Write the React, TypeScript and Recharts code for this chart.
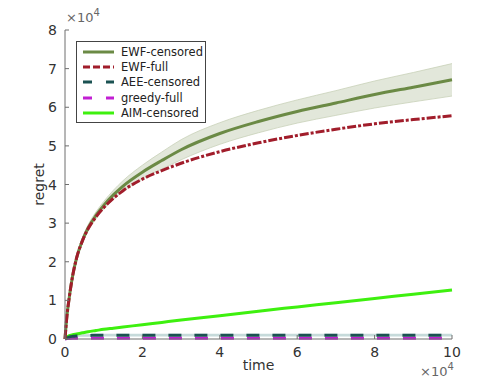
import {
  ComposedChart,
  Line,
  Area,
  XAxis,
  YAxis,
  Label,
} from "recharts";

// time in units of 1e4, regret in units of 1e4
const time = [0, 0.05, 0.1, 0.2, 0.3, 0.45, 0.6, 0.8, 1, 1.25, 1.5, 2, 2.5, 3, 4, 5, 6, 7, 8, 9, 10];
const ewfCensored = [0, 0.6, 1.0, 1.65, 2.1, 2.55, 2.88, 3.2, 3.46, 3.73, 3.96, 4.32, 4.62, 4.9, 5.32, 5.63, 5.89, 6.11, 6.33, 6.52, 6.71];
const ewfCensoredLow = [0, 0.58, 0.97, 1.6, 2.04, 2.48, 2.8, 3.11, 3.36, 3.61, 3.82, 4.14, 4.4, 4.64, 5.04, 5.34, 5.59, 5.79, 5.98, 6.14, 6.29];
const ewfCensoredHigh = [0, 0.62, 1.03, 1.7, 2.16, 2.62, 2.96, 3.29, 3.56, 3.85, 4.1, 4.5, 4.84, 5.16, 5.6, 5.92, 6.19, 6.43, 6.68, 6.9, 7.13];
const ewfFull = [0, 0.6, 1.0, 1.65, 2.1, 2.54, 2.86, 3.16, 3.4, 3.64, 3.84, 4.14, 4.36, 4.55, 4.85, 5.08, 5.27, 5.43, 5.57, 5.68, 5.78];
const aeeCensored = [0, 0.03, 0.05, 0.07, 0.08, 0.09, 0.09, 0.1, 0.1, 0.1, 0.1, 0.1, 0.1, 0.1, 0.1, 0.1, 0.1, 0.1, 0.1, 0.1, 0.1];
const aeeLow = [0, 0.02, 0.035, 0.05, 0.055, 0.06, 0.06, 0.065, 0.065, 0.065, 0.065, 0.065, 0.065, 0.065, 0.065, 0.065, 0.065, 0.065, 0.065, 0.065, 0.065];
const aeeHigh = [0, 0.04, 0.065, 0.09, 0.105, 0.12, 0.12, 0.135, 0.135, 0.135, 0.135, 0.135, 0.135, 0.135, 0.135, 0.135, 0.135, 0.135, 0.135, 0.135, 0.135];
const greedyFull = [0, 0.01, 0.015, 0.02, 0.02, 0.02, 0.02, 0.02, 0.02, 0.02, 0.02, 0.02, 0.02, 0.02, 0.02, 0.02, 0.02, 0.02, 0.02, 0.02, 0.02];
const aimCensored = [0, 0.05, 0.08, 0.11, 0.13, 0.16, 0.19, 0.22, 0.25, 0.28, 0.31, 0.37, 0.43, 0.49, 0.6, 0.72, 0.83, 0.94, 1.05, 1.16, 1.27];

const xTicks = [0, 2, 4, 6, 8, 10];
const yTicks = [0, 1, 2, 3, 4, 5, 6, 7, 8];

const legendItems = [
  { name: "EWF-censored", color: "#6b8a45", dash: "" },
  { name: "EWF-full", color: "#a11d2b", dash: "7 3" },
  { name: "AEE-censored", color: "#1b5252", dash: "9 14" },
  { name: "greedy-full", color: "#c21fd3", dash: "9 14" },
  { name: "AIM-censored", color: "#3ef00f", dash: "" },
];

const data = time.map((t, i) => ({
  t,
  ewfC: ewfCensored[i],
  ewfBand: [ewfCensoredLow[i], ewfCensoredHigh[i]],
  ewfF: ewfFull[i],
  aee: aeeCensored[i],
  aeeBand: [aeeLow[i], aeeHigh[i]],
  greedy: greedyFull[i],
  aim: aimCensored[i],
}));

const font = "DejaVu Sans, sans-serif";
const axisColor = "#6e6e6e";
const textColor = "#333";

function XTick(props: any) {
  const { x, y, payload } = props;
  return (
    <g>
      <line x1={x} y1={y} x2={x} y2={y - 4} stroke={axisColor} />
      <text x={x} y={y + 18} textAnchor="middle" fontSize={14} fill={textColor} fontFamily={font}>
        {payload.value}
      </text>
    </g>
  );
}

function YTick(props: any) {
  const { x, y, payload } = props;
  return (
    <g>
      <line x1={x} y1={y} x2={x + 4} y2={y} stroke={axisColor} />
      <text x={x - 8} y={y + 5} textAnchor="end" fontSize={14} fill={textColor} fontFamily={font}>
        {payload.value}
      </text>
    </g>
  );
}

function LegendBox() {
  return (
    <div
      style={{
        position: "absolute",
        left: 76,
        top: 41,
        width: 130,
        boxSizing: "border-box",
        border: "1px solid #444",
        background: "#fff",
        padding: "2px 0 2px 6px",
        fontFamily: font,
        fontSize: 11.5,
        color: "#222",
        whiteSpace: "nowrap",
      }}
    >
      {legendItems.map((it) => (
        <div key={it.name} style={{ display: "flex", alignItems: "center", height: 15.3 }}>
          <svg width={31} height={6} style={{ marginRight: 7, flexShrink: 0 }}>
            <line
              x1={0}
              y1={3}
              x2={31}
              y2={3}
              stroke={it.color}
              strokeWidth={3}
              strokeDasharray={it.dash}
            />
          </svg>
          <span>{it.name}</span>
        </div>
      ))}
    </div>
  );
}

export default function App() {
  return (
    <div style={{ position: "absolute", left: 0, top: 0, width: 498, height: 380 }}>
      <ComposedChart
        width={498}
        height={380}
        data={data}
        margin={{ top: 30, right: 46, bottom: 11, left: 35 }}
      >
        <XAxis
          dataKey="t"
          type="number"
          domain={[0, 10]}
          ticks={xTicks}
          tickSize={0}
          tickMargin={0}
          tick={<XTick />}
          height={30}
          stroke={axisColor}
        >
          <Label
            content={(p: any) => {
              const vb = p.viewBox;
              return (
                <g fontFamily={font} fill={textColor}>
                  <text x={vb.x + vb.width / 2} y={vb.y + 31} textAnchor="middle" fontSize={14}>
                    time
                  </text>
                  <text x={vb.x + vb.width - 32} y={vb.y + 37} fontSize={13} fill="#666">
                    ×10
                    <tspan dy={-6} fontSize={10}>4</tspan>
                  </text>
                </g>
              );
            }}
          />
        </XAxis>
        <YAxis
          type="number"
          domain={[0, 8]}
          ticks={yTicks}
          tickSize={0}
          tickMargin={0}
          tick={<YTick />}
          width={30}
          stroke={axisColor}
        >
          <Label
            content={(p: any) => {
              const vb = p.viewBox;
              const cy = vb.y + vb.height / 2;
              return (
                <g fontFamily={font} fill={textColor}>
                  <text
                    x={44}
                    y={cy}
                    textAnchor="middle"
                    fontSize={14}
                    transform={`rotate(-90, 44, ${cy})`}
                  >
                    regret
                  </text>
                  <text x={vb.x + vb.width + 1} y={vb.y - 8} fontSize={13} fill="#666">
                    ×10
                    <tspan dy={-6} fontSize={10}>4</tspan>
                  </text>
                </g>
              );
            }}
          />
        </YAxis>
        <Area
          dataKey="ewfBand"
          stroke="#c8d1b8"
          strokeWidth={0.8}
          fill="#e2e7da"
          fillOpacity={1}
          isAnimationActive={false}
          type="monotone"
        />
        <Area
          dataKey="aeeBand"
          stroke="none"
          fill="#c6dada"
          fillOpacity={1}
          isAnimationActive={false}
          type="monotone"
        />
        <Line dataKey="aim" stroke="#3ef00f" strokeWidth={3} dot={false} type="monotone" isAnimationActive={false} />
        <Line
          dataKey="greedy"
          stroke="#c21fd3"
          strokeWidth={3}
          strokeDasharray="13 13"
          dot={false}
          type="monotone"
          isAnimationActive={false}
        />
        <Line
          dataKey="aee"
          stroke="#1b5252"
          strokeWidth={3}
          strokeDasharray="13 13"
          dot={false}
          type="monotone"
          isAnimationActive={false}
        />
        <Line dataKey="ewfC" stroke="#6b8a45" strokeWidth={3} dot={false} type="monotone" isAnimationActive={false} />
        <Line
          dataKey="ewfF"
          stroke="#a11d2b"
          strokeWidth={3}
          strokeDasharray="9 2 3 2"
          dot={false}
          type="monotone"
          isAnimationActive={false}
        />
      </ComposedChart>
      <LegendBox />
    </div>
  );
}
